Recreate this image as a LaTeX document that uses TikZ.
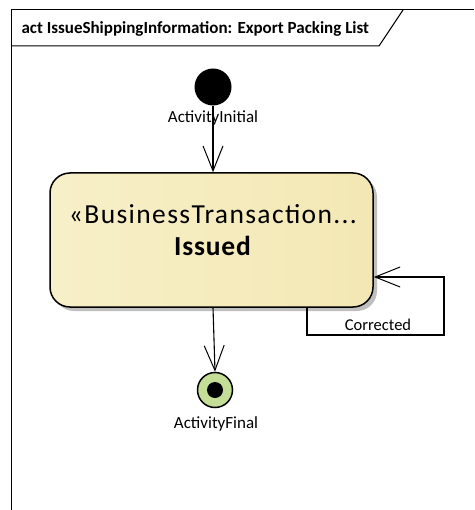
\documentclass[tikz,border=0pt]{standalone}
\usepackage{fontspec}
\setmainfont{Carlito}
\usetikzlibrary{arrows.meta,shadows}

\definecolor{boxleft}{HTML}{F7EFC8}
\definecolor{boxmid}{HTML}{FDFAE6}
\definecolor{boxright}{HTML}{F3E8B4}
\definecolor{finalgreen}{HTML}{C4DE98}

\begin{document}
\begin{tikzpicture}[x=1pt, y=-1pt]
  \tikzstyle{flow} = [draw=black, line width=1.1pt, -{Straight Barb[length=25pt, width=20pt, line width=1pt]}];
  \tikzstyle{label_text} = [font=\fontsize{17}{20}\selectfont, anchor=base];
  \tikzstyle{initial_node} = [circle, fill=black, minimum size=37pt, inner sep=0pt];
  \tikzstyle{final_node} = [circle, draw=black, line width=1.5pt, fill=finalgreen, minimum size=35pt, inner sep=0pt];
  \tikzstyle{state_box} = [draw=black, line width=1.5pt, rounded corners=20pt,
    minimum width=323pt, minimum height=134pt,
    left color=boxleft, middle color=boxmid, right color=boxright,
    drop shadow={shadow xshift=4pt, shadow yshift=-4pt, fill=black!25, opacity=1}];

  \useasboundingbox (0, 0) rectangle (474, 510);

  % frame
  \draw[line width=1pt] (11, 510) -- (11, 10) -- (474, 10);
  \draw[line width=1pt] (11, 46) -- (379, 46) -- (403, 10);
  \node[anchor=base west, font=\bfseries\fontsize{17}{20}\selectfont] (title) at (18, 34)
    {act IssueShippingInformation: Export Packing List};

  % nodes
  \node[initial_node] (initial) at (213, 87) {};
  \node[label_text] (initial_label) at (213, 123) {ActivityInitial};

  \node[state_box] (issued) at (211.5, 240) {};
  \node[anchor=base, font=\fontsize{27.5}{32}\selectfont\addfontfeature{LetterSpace=5}] (issued_stereo) at (213, 223)
    {«BusinessTransaction...};
  \node[anchor=base, font=\bfseries\fontsize{27.5}{32}\selectfont\addfontfeature{LetterSpace=3}] (issued_name) at (212.5, 255)
    {Issued};

  \node[final_node] (final) at (215, 390) {};
  \fill[black] (final.center) circle (8pt);
  \node[label_text] (final_label) at (216, 428) {ActivityFinal};

  % connectors
  \draw[flow] (initial) -- (initial |- issued.north);
  \draw[flow] (initial |- issued.south) -- (final.north);

  \coordinate (loop_bottom) at (307, 335);
  \coordinate (loop_right) at (444, 277);
  \draw[flow] (loop_bottom |- issued.south) -- (loop_bottom) -| (loop_right) -- (loop_right -| issued.east);
  \node[label_text, font=\fontsize{16.5}{20}\selectfont] (corrected) at (378, 330) {Corrected};
\end{tikzpicture}
\end{document}
